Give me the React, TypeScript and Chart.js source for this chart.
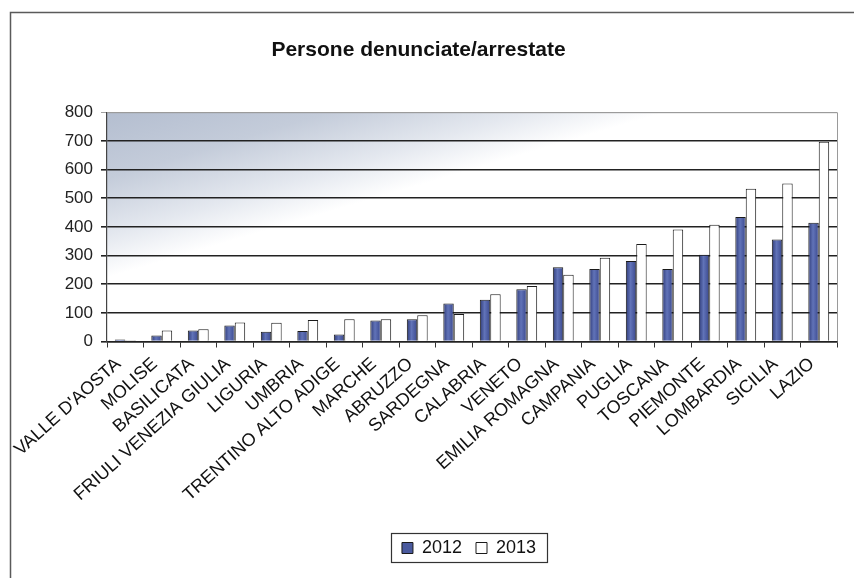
import React, { useEffect, useRef } from "react";
import { Chart, registerables } from "chart.js";

Chart.register(...registerables);

const FONT = "'Liberation Sans', Arial, sans-serif";

const categories = [
  "VALLE D'AOSTA",
  "MOLISE",
  "BASILICATA",
  "FRIULI VENEZIA GIULIA",
  "LIGURIA",
  "UMBRIA",
  "TRENTINO ALTO ADIGE",
  "MARCHE",
  "ABRUZZO",
  "SARDEGNA",
  "CALABRIA",
  "VENETO",
  "EMILIA ROMAGNA",
  "CAMPANIA",
  "PUGLIA",
  "TOSCANA",
  "PIEMONTE",
  "LOMBARDIA",
  "SICILIA",
  "LAZIO",
];

const values2012 = [7, 21, 38, 56, 34, 37, 24, 73, 78, 133, 146, 182, 259, 253, 281, 253, 303, 434, 356, 414];
const values2013 = [4, 38, 43, 66, 65, 75, 78, 78, 92, 96, 165, 194, 233, 292, 340, 391, 407, 533, 551, 697];

const seriesNames = ["2012", "2013"];
const yTicks = [0, 100, 200, 300, 400, 500, 600, 700, 800];
const titleText = "Persone denunciate/arrestate";

const CAT_PCT = 2 / 3.5;

const decorPlugin = {
  id: "decor",
  afterLayout(chart: any) {
    const lg = chart.legend;
    if (lg) {
      const shift = 469 - (lg.left + lg.right) / 2;
      lg.left += shift;
      lg.right += shift;
    }
  },
  beforeDraw(chart: any) {
    const { ctx, chartArea: a, width, height } = chart;
    ctx.save();
    ctx.fillStyle = "#ffffff";
    ctx.fillRect(0, 0, width, height);
    const g = ctx.createLinearGradient(a.left, a.top, a.left + 45, a.top + 152);
    g.addColorStop(0, "#b4bed0");
    g.addColorStop(0.4, "#c4ccda");
    g.addColorStop(0.75, "#e4e8ef");
    g.addColorStop(1, "#ffffff");
    ctx.fillStyle = g;
    ctx.fillRect(a.left, a.top, a.right - a.left, a.bottom - a.top);
    ctx.restore();
  },
  beforeDatasetsDraw(chart: any) {
    const { ctx, chartArea: a } = chart;
    ctx.save();
    ctx.strokeStyle = "#9a9a9a";
    ctx.lineWidth = 1;
    ctx.beginPath();
    ctx.moveTo(a.left, a.top + 0.5);
    ctx.lineTo(a.right + 0.5, a.top + 0.5);
    ctx.lineTo(a.right + 0.5, a.bottom);
    ctx.stroke();
    ctx.restore();
  },
  afterDraw(chart: any) {
    const { ctx, height, width } = chart;
    ctx.save();
    ctx.strokeStyle = "#5a5a5a";
    ctx.lineWidth = 1.5;
    ctx.beginPath();
    ctx.moveTo(10.5, height);
    ctx.lineTo(10.5, 12.5);
    ctx.lineTo(width, 12.5);
    ctx.stroke();
    const lg = chart.legend;
    if (lg && lg.legendHitBoxes && lg.legendHitBoxes.length) {
      const hbs = lg.legendHitBoxes;
      const first = hbs[0];
      const last = hbs[hbs.length - 1];
      const x0 = Math.round(first.left - 11) + 0.5;
      const x1 = Math.round(last.left + last.width + 11) + 0.5;
      const y0 = Math.round(first.top - 6) + 0.5;
      const y1 = Math.round(first.top + first.height + 5) + 0.5;
      ctx.strokeStyle = "#333333";
      ctx.lineWidth = 1.2;
      ctx.strokeRect(x0, y0, x1 - x0, y1 - y0);
    }
    ctx.restore();
  },
};

function barGradient(c: any) {
  const chart = c.chart;
  const xs = chart.scales && chart.scales.x;
  if (!xs || c.type !== "data" || !xs.width) return "#4a5a9e";
  const center = xs.getPixelForValue(c.dataIndex);
  const w = (xs.width / categories.length) * CAT_PCT / 2;
  const l = center - w;
  const r = center;
  const g = chart.ctx.createLinearGradient(l, 0, r, 0);
  g.addColorStop(0, "#2f3b78");
  g.addColorStop(0.45, "#6173b8");
  g.addColorStop(1, "#3a488e");
  return g;
}

export default function App() {
  const ref = useRef<HTMLCanvasElement>(null);

  useEffect(() => {
    if (!ref.current) return;
    const chart = new Chart(ref.current, {
      type: "bar",
      data: {
        labels: categories,
        datasets: [
          {
            label: seriesNames[0],
            data: values2012,
            backgroundColor: barGradient as any,
            borderColor: "#1a1a1a",
            borderWidth: 1,
            categoryPercentage: CAT_PCT,
            barPercentage: 1,
          },
          {
            label: seriesNames[1],
            data: values2013,
            backgroundColor: "#ffffff",
            borderColor: "#1a1a1a",
            borderWidth: 1,
            categoryPercentage: CAT_PCT,
            barPercentage: 1,
          },
        ],
      },
      options: {
        animation: false,
        responsive: true,
        maintainAspectRatio: false,
        layout: { padding: { left: 0, right: 17, top: 0, bottom: 11 } },
        plugins: {
          tooltip: { enabled: false },
          title: {
            display: true,
            text: titleText,
            color: "#111111",
            font: { family: FONT, size: 21, weight: "bold" },
            padding: { top: 38, bottom: 49 },
          },
          legend: {
            display: true,
            position: "bottom",
            labels: {
              boxWidth: 11,
              boxHeight: 11,
              padding: 14,
              color: "#111111",
              font: { family: FONT, size: 18 },
              generateLabels: (chart: any) => {
                const items = Chart.defaults.plugins.legend.labels.generateLabels(chart);
                return items.map((it: any, i: number) => ({
                  ...it,
                  fillStyle: i === 0 ? "#4a5a9e" : "#ffffff",
                  strokeStyle: "#1a1a1a",
                  lineWidth: 1,
                }));
              },
            },
          },
        },
        scales: {
          x: {
            type: "category",
            offset: true,
            grid: {
              offset: true,
              drawOnChartArea: false,
              drawTicks: true,
              tickLength: 6,
              color: "#333333",
              lineWidth: 1,
            },
            border: { display: true, color: "#222222", width: 1.5 },
            ticks: {
              autoSkip: false,
              minRotation: 42,
              maxRotation: 42,
              padding: 6,
              labelOffset: -7,
              color: "#111111",
              font: { family: FONT, size: 18 },
            },
            afterFit: (s: any) => {
              s.height = 183.5;
              s.paddingLeft = 0;
              s.paddingRight = 0;
            },
          },
          y: {
            min: 0,
            max: 800,
            afterBuildTicks: (s: any) => {
              s.ticks = yTicks.map((v) => ({ value: v }));
            },
            grid: {
              drawTicks: true,
              tickLength: 6,
              color: (c: any) => (c.tick && c.tick.value === 800 ? "#a0a0a0" : "#222222"),
              lineWidth: (c: any) => (c.tick && c.tick.value === 800 ? 1 : 1.6),
            },
            border: { display: true, color: "#444444", width: 1.2 },
            ticks: {
              padding: 8,
              color: "#222222",
              font: { family: FONT, size: 17 },
            },
            afterFit: (s: any) => {
              s.width = 107;
            },
          },
        },
      },
      plugins: [decorPlugin],
    });
    return () => chart.destroy();
  }, []);

  return (
    <div style={{ position: "fixed", left: 0, top: 0, width: 854, height: 578, background: "#fff" }}>
      <canvas ref={ref} />
    </div>
  );
}
